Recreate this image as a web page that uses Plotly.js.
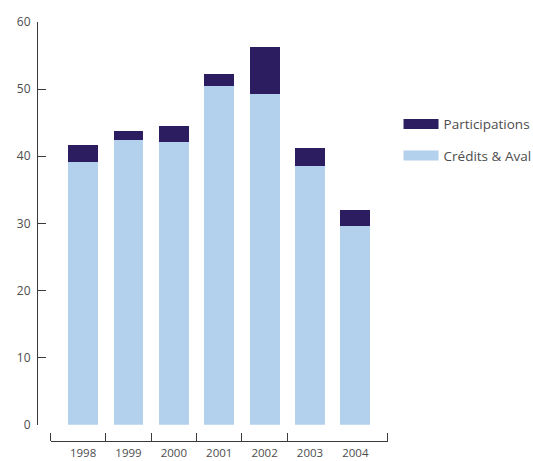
<!DOCTYPE html>
<html>
<head>
<meta charset="utf-8">
<script src="https://cdn.plot.ly/plotly-3.0.1.min.js"></script>
<style>
  html, body { margin: 0; padding: 0; background: #fff; }
  #chart { width: 533px; height: 461px; }
</style>
</head>
<body>
<div id="chart"></div>
<script>
// Years on the horizontal axis
const years = [1998, 1999, 2000, 2001, 2002, 2003, 2004];
// Stacked components per year
const credits = [39.1, 42.4, 42.1, 50.4, 49.3, 38.5, 29.6];
const participations = [2.5, 1.3, 2.4, 1.9, 7.0, 2.7, 2.4];
// Labels for the two series
const seriesNames = ['Participations', 'Crédits & Aval'];
// Vertical axis ticks
const yTicks = [0, 10, 20, 30, 40, 50, 60];

const darkBlue = '#2b1d5f';
const lightBlue = '#b3d0ec';
const axisColor = '#3a3a3a';
const textColor = '#4d4d4d';

// Tick marks between the year columns, plus one at each end of the axis line
const xRange = [years[0] - 0.715, years[years.length - 1] + 0.72];
const boundaryTicks = [xRange[0] + 0.002];
for (let i = 0; i < years.length - 2; i++) boundaryTicks.push(years[i] + 0.5);
boundaryTicks.push(xRange[1] - 0.002);

const traces = [
  { type: 'bar', x: years, y: credits, name: seriesNames[1], marker: { color: lightBlue }, width: 0.66, showlegend: false, hoverinfo: 'x+y' },
  { type: 'bar', x: years, y: participations, name: seriesNames[0], marker: { color: darkBlue }, width: 0.66, showlegend: false, hoverinfo: 'x+y' },
  // legend swatches (wide, flat keys)
  { type: 'scatter', mode: 'lines', x: [null], y: [null], name: seriesNames[0], line: { color: darkBlue, width: 10 }, legendgroup: 'p' },
  { type: 'scatter', mode: 'lines', x: [null], y: [null], name: seriesNames[1], line: { color: lightBlue, width: 10 }, legendgroup: 'c' }
];

const layout = {
  width: 533,
  height: 461,
  margin: { l: 37, r: 145.3, t: 22, b: 20.3, autoexpand: false },
  paper_bgcolor: '#fff',
  plot_bgcolor: '#fff',
  barmode: 'stack',
  font: { family: '"Open Sans", "DejaVu Sans", sans-serif', size: 12, color: textColor },
  xaxis: {
    domain: [0.039, 1],
    anchor: 'free',
    position: 0,
    range: xRange,
    tickmode: 'array',
    tickvals: years,
    ticktext: years.map(String),
    ticks: '',
    ticklabelstandoff: 1,
    tickfont: { size: 11.5 },
    showline: true,
    linecolor: axisColor,
    linewidth: 1,
    showgrid: false,
    zeroline: false,
    minor: { tickmode: 'array', tickvals: boundaryTicks, ticks: 'inside', ticklen: 8, tickcolor: axisColor, tickwidth: 1, showgrid: false }
  },
  yaxis: {
    domain: [0.039, 1],
    anchor: 'free',
    position: 0,
    range: [0, 60],
    tickmode: 'array',
    tickvals: yTicks,
    ticks: 'inside',
    ticklen: 8,
    tickcolor: axisColor,
    tickwidth: 1,
    ticklabelstandoff: 4,
    showline: true,
    linecolor: axisColor,
    linewidth: 1,
    showgrid: false,
    zeroline: false
  },
  legend: {
    x: 1.03,
    xanchor: 'left',
    y: 0.793,
    yanchor: 'top',
    traceorder: 'grouped',
    tracegroupgap: 11,
    itemwidth: 35,
    font: { size: 13.5, color: textColor },
    bgcolor: 'rgba(0,0,0,0)'
  },
  showlegend: true
};

Plotly.newPlot('chart', traces, layout, { displayModeBar: false, staticPlot: true });
</script>
</body>
</html>
